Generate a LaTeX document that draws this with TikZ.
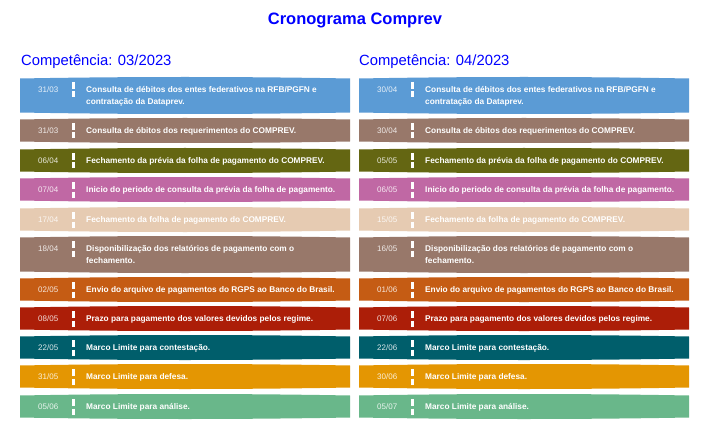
\documentclass[tikz,border=0pt]{standalone}
\usepackage{fontspec}
\setmainfont{Liberation Sans}
\definecolor{cblue}{RGB}{91,155,213}
\definecolor{cbrown}{RGB}{152,120,106}
\definecolor{colive}{RGB}{100,102,18}
\definecolor{cpink}{RGB}{192,104,164}
\definecolor{cbeige}{RGB}{230,203,178}
\definecolor{corange}{RGB}{197,92,20}
\definecolor{cred}{RGB}{172,30,8}
\definecolor{cteal}{RGB}{0,94,107}
\definecolor{camber}{RGB}{228,150,2}
\definecolor{cgreen}{RGB}{105,183,138}
\newcommand{\cbar}[4]{% x, top, height, colour
  \fill[#4] (#1,#2+1.5) -- (#1,#2+#3-1.5)
    .. controls (#1+110,#2+#3+0.5) and (#1+220,#2+#3+0.5) .. (#1+330,#2+#3-1.5)
    -- (#1+330,#2+1.5)
    .. controls (#1+220,#2-0.5) and (#1+110,#2-0.5) .. cycle;}

\begin{document}
\begin{tikzpicture}[x=1pt,y=-1pt,
    datum/.style={anchor=base west,inner sep=0pt,font=\fontsize{8}{12}\selectfont,text=white,text opacity=.85},
    tarefa/.style={anchor=base west,inner sep=0pt,font=\fontsize{8.3}{12}\selectfont\bfseries,text=white},
    sep/.style={white,line width=2.4pt,dash pattern=on 7pt off 2.5pt},
    cabec/.style={anchor=base west,inner sep=0pt,font=\fontsize{14.8}{18}\selectfont,text=blue}]
  \fill[white] (0,0) rectangle (715,441);
  \useasboundingbox (0,0) rectangle (715,441);

  \node (titulo) at (355,25) [anchor=base,inner sep=0pt,font=\fontsize{16.5}{20}\selectfont\bfseries,text=blue] {Cronograma Comprev};
  \node (compA) at (21,66) [cabec] {Competência: 03/2023};
  \node (compB) at (359,66) [cabec] {Competência: 04/2023};

  \foreach \yt/\hgt/\clr/\dA/\dB/\txt [count=\i] in {
      77/37/cblue/31\slash 03/30\slash 04/{Consulta de débitos dos entes federativos na RFB/PGFN e\\contratação da Dataprev.},
      118/25/cbrown/31\slash 03/30\slash 04/{Consulta de óbitos dos requerimentos do COMPREV.},
      148/25/colive/06\slash 04/05\slash 05/{Fechamento da prévia da folha de pagamento do COMPREV.},
      177/25/cpink/07\slash 04/06\slash 05/{Inicio do periodo de consulta da prévia da folha de pagamento.},
      207/25/cbeige/17\slash 04/15\slash 05/{Fechamento da folha de pagamento do COMPREV.},
      236/37/cbrown/18\slash 04/16\slash 05/{Disponibilização dos relatórios de pagamento com o\\fechamento.},
      277/25/corange/02\slash 05/01\slash 06/{Envio do arquivo de pagamentos do RGPS ao Banco do Brasil.},
      306/25/cred/08\slash 05/07\slash 06/{Prazo para pagamento dos valores devidos pelos regime.},
      335/25/cteal/22\slash 05/22\slash 06/{Marco Limite para contestação.},
      364/25/camber/31\slash 05/30\slash 06/{Marco Limite para defesa.},
      394/25/cgreen/05\slash 06/05\slash 07/{Marco Limite para análise.}} {
    \foreach \c/\x/\d in {A/20/\dA,B/359/\dB} {
      \cbar{\x}{\yt}{\hgt}{\clr}
      \node (d\c\i) at (\x+18,\yt+15.5) [datum] {\d};
      \coordinate (s\c\i) at (\x+53.5,\yt+5);
      \draw[sep] (s\c\i) -- ++(0,15.5);
      \node (t\c\i) at (\x+66,\yt+15.5) [tarefa] {\begin{tabular}[t]{@{}l@{}}\txt\end{tabular}};
    }
  }
\end{tikzpicture}
\end{document}
